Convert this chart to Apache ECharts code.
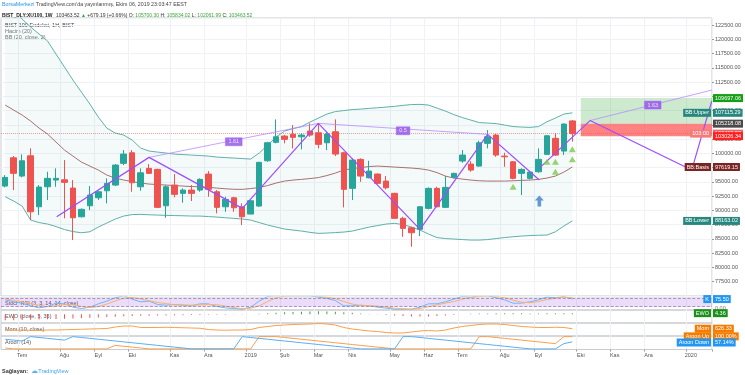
<!DOCTYPE html>
<html>
<head>
<meta charset="utf-8">
<script src="https://cdn.jsdelivr.net/npm/echarts@6/dist/echarts.min.js"></script>
<style>
  html, body { margin: 0; padding: 0; background: #fff; }
  #chart { width: 745px; height: 375px; }
</style>
</head>
<body>
<div id="chart"></div>
<script>
// haftalık mumlar: 2018-06-18 .. 2019-09-30 (68 bar) + 16 boş gelecek bar
const barCount = 84
const monthTicks = { 2: 'Tem', 7: 'Ağu', 11: 'Eyl', 15: 'Eki', 20: 'Kas', 24: 'Ara', 29: '2019', 33: 'Şub', 37: 'Mar', 41: 'Nis', 46: 'May', 50: 'Haz', 54: 'Tem', 59: 'Ağu', 63: 'Eyl', 68: 'Eki', 72: 'Kas', 76: 'Ara', 81: '2020' }
const categories = Array.from({ length: barCount }, (_, i) => String(i))

const opens = [94273, 99235, 96027, 99586, 90644, 94151, 95325, 95378, 93923, 88891, 90820, 92222, 93449, 94449, 98253, 100112, 94151, 97377, 97202, 90820, 94449, 92994, 93572, 93572, 96377, 93274, 90644, 92222, 90644, 89365, 90767, 98709, 101935, 103039, 103338, 102917, 103916, 103618, 101865, 103793, 100112, 93870, 98955, 95729, 96377, 95150, 92994, 88611, 86963, 86682, 90364, 93870, 90539, 95799, 98656, 98131, 97780, 101760, 103215, 99533, 98534, 96500, 95623, 96781, 99831, 102636, 100410, 105700.30]
const highs = [96202, 99533, 99831, 100883, 94449, 96781, 97377, 98832, 95325, 90364, 94273, 93449, 95623, 98131, 100585, 100585, 97377, 98131, 97307, 94449, 96377, 93870, 94449, 95623, 96903, 93572, 92398, 92398, 91240, 91819, 98534, 102040, 105967, 103215, 104968, 103513, 105266, 105266, 103793, 105967, 100287, 99130, 99130, 98709, 96500, 96027, 93099, 88891, 87138, 90767, 94046, 94151, 96027, 96605, 100585, 98656, 102215, 104091, 103390, 100112, 98656, 97377, 96903, 100883, 103215, 103513, 105266, 105834.02]
const lows = [94046, 93572, 95799, 88313, 89189, 91819, 94151, 88611, 84806, 88786, 90066, 91819, 91240, 94273, 97955, 93274, 93449, 96377, 90416, 88716, 92292, 91346, 91644, 93274, 92398, 89487, 89768, 89768, 87436, 89365, 90644, 98534, 101760, 101760, 100883, 100708, 102917, 100883, 100585, 99533, 90539, 91819, 95027, 95623, 94624, 93695, 88540, 85385, 83631, 85507, 90189, 90539, 90469, 95623, 98358, 96781, 97657, 100883, 99410, 97657, 95448, 92696, 95448, 96605, 99708, 99533, 99708, 102061.99]
const closes = [95799, 96500, 98709, 89768, 94098, 95623, 95623, 94922, 88716, 90189, 92696, 93274, 94747, 97955, 99884, 94852, 96605, 96500, 90539, 94151, 92818, 93572, 92994, 95448, 93695, 90539, 91942, 90469, 88891, 91696, 98429, 101865, 102917, 102461, 102812, 103215, 103215, 101584, 103390, 99884, 93695, 98832, 96027, 96903, 94747, 93975, 88611, 86857, 86086, 90644, 93870, 90644, 94046, 96500, 99708, 97079, 101865, 102917, 99708, 99410, 95623, 97202, 96728, 98955, 103092, 99708, 105143, 103463.52]

// Bollinger (20, close, 2)
const bbUpper = [126357, 125130, 123552, 122149, 120922, 119695, 117416, 115137, 112857, 110754, 108650, 106371, 104442, 103565, 103215, 102338, 100936, 100410, 100234, 100059, 99884, 99796, 99708, 99621, 99533, 99358, 99270, 99182, 99095, 99007, 100059, 101462, 102864, 103916, 104354, 104705, 105494, 106195, 106897, 107335, 107510, 107685, 107773, 107896, 108001, 108124, 108246, 108422, 108562, 108597, 108474, 107948, 107422, 106809, 106283, 105845, 105407, 105319, 105231, 104968, 104705, 104617, 104565, 104705, 105547, 106195, 106897, 107115.29]
const bbBasis = [108474, 107598, 106721, 105669, 104442, 103390, 101988, 100585, 99533, 98481, 97780, 97079, 96202, 95676, 95325, 95062, 94799, 94624, 94536, 94449, 94361, 94273, 94186, 94151, 94046, 93923, 93800, 93712, 93695, 93835, 94010, 94361, 94799, 95150, 95325, 95448, 95589, 95764, 96114, 96553, 97079, 97342, 97517, 97692, 97780, 97692, 97605, 97517, 97429, 97307, 97079, 96640, 96027, 95676, 95501, 95325, 95203, 95150, 95150, 95150, 95203, 95273, 95325, 95448, 95676, 96027, 96728, 97619.15]
const bbLower = [92398, 91644, 90767, 88313, 87874, 87611, 87173, 86647, 86296, 86086, 86261, 87085, 87787, 88488, 89014, 89277, 89312, 89242, 89189, 89137, 89101, 89066, 89014, 89014, 88926, 88839, 88716, 88611, 88488, 88313, 87874, 87436, 87085, 86735, 86559, 86384, 86156, 85981, 86033, 86121, 86209, 86384, 86735, 87085, 87348, 87611, 87734, 87524, 87085, 86559, 85858, 85244, 85069, 84982, 84894, 84806, 84806, 84894, 85069, 85244, 85385, 85507, 85595, 85648, 85683, 86261, 87261, 88163.02]

// çizimler: [bar, fiyat]
const zigA = [[6.08, 88891], [16.99, 99305], [28.01, 90364], [36.99, 105266], [49.0, 86682], [57.0, 103338], [63.1, 95325]]
const linkA = [[16.99, 99305], [36.99, 105266]]
const linkB = [[36.99, 105266], [57.0, 103338]]
const zigB = [[63.1, 97430], [69.09, 105757], [81.1, 97079], [83.47, 109176]]
const linkC = [[69.09, 105757], [83.47, 111104]]
const ratioLabels = [[27.0, 102040, '1.61'], [47.0, 103969, '0.5'], [76.5, 108474, '1.63']]
const signalUps = [[60, 94151], [64, 98534], [65, 98534], [65, 96781], [67, 100708], [67, 98955]]
const arrowUps = [[63.1, 91644]]

// long pozisyon kutusu
const targetPrice = 109697.06
const entryPrice = 105218.08
const stopPrice = 103026.34
const lastPrice = 103463.52

// alt paneller (tahmini okumalar)
const stochK = [70, 55, 45, 25, 10, 20, 45, 40, 15, 5, 15, 40, 60, 85, 100, 75, 55, 60, 35, 30, 35, 30, 25, 40, 40, 20, 10, 5, 0, 15, 60, 95, 100, 100, 100, 100, 100, 90, 80, 65, 25, 25, 30, 25, 15, 8, 0, 0, 0, 15, 40, 40, 55, 75, 95, 90, 100, 100, 85, 70, 45, 45, 55, 70, 90, 85, 95, 75.5]
const stochD = [80, 65, 55, 42, 27, 18, 25, 35, 33, 20, 12, 20, 38, 62, 82, 87, 77, 63, 50, 42, 33, 32, 30, 32, 35, 33, 23, 12, 5, 7, 25, 57, 85, 98, 100, 100, 100, 97, 90, 78, 57, 38, 27, 27, 23, 16, 8, 3, 0, 5, 18, 32, 45, 57, 75, 87, 95, 97, 95, 85, 67, 53, 48, 57, 72, 82, 90, 85]
const ewo = [-24, -23.5, -23, -22, -21, -20, -19, -18, -17, -15.5, -14, -12.5, -11, -9.5, -8, -7, -6, -5.5, -5, -4.5, -4, -3.6, -3.2, -2.8, -2.4, -2, -1.6, -1.2, -0.8, -0.4, 2, 4, 6, 8, 9.5, 10.5, 11.5, 12, 11.5, 10, 8, 6, 3.5, 1.5, -1, -3, -5, -7, -8.5, -9, -8.5, -7, -5, -2.5, 0.5, 2, 3, 3.5, 4, 4, 3.8, 3.6, 3.4, 3.4, 3.6, 4, 4.2, 4.36]
const mom = [-2000, -2500, -2000, -2500, -3000, -2000, -2000, -1500, -1000, -500, 0, 500, 1000, 4000, 6000, 6000, 3000, 3000, 3000, 3500, 3000, 2500, 2000, 1500, -1000, -2000, -2500, -2000, -2000, -1000, 3000, 5000, 7000, 8000, 9000, 9500, 10000, 11000, 10000, 8000, 3000, 0, -2000, -4000, -5000, -7000, -8000, -8000, -6000, -4000, -3000, -4000, -2000, 2000, 5000, 7000, 9000, 10000, 10000, 9000, 7000, 5000, 4000, 3000, 3000, 3500, 3000, 626.33]
const aroonUp = [7.14, 0, 0, 0, 0, 0, 0, 0, 0, 0, 0, 0, 0, 28.57, 21.43, 14.29, 7.14, 0, 0, 0, 0, 0, 0, 0, 0, 0, 0, 0, 0, 0, 100, 100, 100, 92.86, 85.71, 78.57, 71.43, 64.29, 57.14, 50, 42.86, 35.71, 28.57, 21.43, 14.29, 7.14, 0, 0, 0, 0, 0, 0, 0, 0, 0, 0, 100, 100, 92.86, 85.71, 78.57, 71.43, 64.29, 57.14, 50, 42.86, 100, 100]
const aroonDown = [78.57, 71.43, 64.29, 100, 92.86, 85.71, 78.57, 71.43, 100, 92.86, 85.71, 78.57, 71.43, 64.29, 57.14, 50, 42.86, 35.71, 28.57, 21.43, 14.29, 7.14, 0, 0, 0, 0, 0, 0, 100, 92.86, 85.71, 78.57, 71.43, 64.29, 57.14, 50, 42.86, 35.71, 28.57, 21.43, 14.29, 7.14, 0, 0, 0, 0, 0, 100, 100, 92.86, 85.71, 78.57, 71.43, 64.29, 57.14, 50, 42.86, 35.71, 28.57, 21.43, 14.29, 7.14, 0, 0, 0, 0, 42.86, 57.14]

const FONT = 'Liberation Sans'
const FS = 5.5
const HFS = 5
const isMonth = (i) => monthTicks[i] !== undefined

const chart = echarts.init(document.getElementById('chart'))

const grids = [
  { left: 1, width: 711, top: 18, height: 278 },
  { left: 1, width: 711, top: 297, height: 13 },
  { left: 1, width: 711, top: 310, height: 13 },
  { left: 1, width: 711, top: 323, height: 13 },
  { left: 1, width: 711, top: 336, height: 13.5 },
].map(g => Object.assign(g, { show: true, borderColor: '#c9cbd1', borderWidth: 1, backgroundColor: 'transparent' }))

const xCat = (gridIndex, showLabel) => ({
  type: 'category', gridIndex, data: categories, boundaryGap: true,
  axisLine: { show: false, onZero: false },
  axisTick: { show: showLabel, interval: isMonth, length: 2, lineStyle: { color: '#999' } },
  axisLabel: { show: showLabel, interval: isMonth, formatter: (v, i) => monthTicks[i] || '', fontSize: FS, color: '#555', fontFamily: FONT, margin: 3 },
  splitLine: { show: true, interval: isMonth, lineStyle: { color: '#eef1f5', width: 1 } },
})
const xVal = (gridIndex) => ({ type: 'value', gridIndex, min: -0.5, max: barCount - 0.5, show: false, axisLine: { onZero: false } })

const xAxes = []
for (let g = 0; g < 5; g++) xAxes.push(xCat(g, g === 4))
for (let g = 0; g < 5; g++) xAxes.push(xVal(g))

const yHidden = (gridIndex, min, max) => ({ type: 'value', gridIndex, min, max, position: 'right', show: true, axisLabel: { show: false }, axisLine: { show: false, onZero: false }, axisTick: { show: false }, splitLine: { show: false } })
const yAxes = [
  {
    type: 'value', gridIndex: 0, position: 'right', min: 75000, max: 123740, interval: 2500,
    axisLine: { show: false, onZero: false },
    axisTick: { show: true, length: 2, lineStyle: { color: '#999' } },
    axisLabel: { fontSize: FS, color: '#555', fontFamily: FONT, margin: 3, showMinLabel: false, showMaxLabel: false, formatter: v => v.toFixed(2) },
    splitLine: { show: true, lineStyle: { color: '#f0f2f6' } },
  },
  yHidden(1, -6, 91),
  yHidden(2, -35, 17),
  yHidden(3, -14000, 12000),
  yHidden(4, -5, 105),
]

// fiyat ekseni etiketleri (x = sağ kenar)
function tag(price, text, bg, side, color) {
  return {
    coord: [barCount - 0.5, price], symbol: 'rect', symbolSize: 0,
    label: {
      show: true, position: side || 'right', distance: 1, formatter: text,
      color: color || '#fff', backgroundColor: bg, padding: [1, 2, 0.5, 2],
      fontSize: FS, fontFamily: FONT, lineHeight: 6.5,
    },
  }
}
const fmt = v => v.toFixed(2)

const mainTags = [
  tag(bbLower[67], 'BB:Lower', '#26877e', 'left'),
  tag(bbLower[67], fmt(bbLower[67]), '#26877e'),
  tag(bbBasis[67], 'BB:Basis', '#7a2424', 'left'),
  tag(bbBasis[67], fmt(bbBasis[67]), '#7a2424'),
  tag(bbUpper[67], 'BB:Upper', '#26877e', 'left'),
  tag(bbUpper[67], fmt(bbUpper[67]), '#26877e'),
  tag(targetPrice, fmt(targetPrice), '#14a014'),
  tag(entryPrice, fmt(entryPrice), '#4a4a4a'),
  tag(lastPrice, '103:00', '#f57a7a', 'left'),
  tag(lastPrice, fmt(lastPrice), '#f26262'),
  tag(stopPrice, fmt(stopPrice), '#ff1f1f'),
]

const lineSeries = (data, color, width, opacity) => ({
  type: 'line', xAxisIndex: 5, yAxisIndex: 0, data, symbol: 'none', silent: true,
  lineStyle: { color, width, opacity: opacity == null ? 1 : opacity }, z: 5, animation: false,
})

const series = [
  // BB dolgu
  { type: 'line', xAxisIndex: 0, yAxisIndex: 0, data: bbLower, stack: 'bb', symbol: 'none', lineStyle: { opacity: 0 }, silent: true },
  { type: 'line', xAxisIndex: 0, yAxisIndex: 0, data: bbUpper.map((u, i) => u - bbLower[i]), stack: 'bb', symbol: 'none', lineStyle: { opacity: 0 }, areaStyle: { color: 'rgba(38,150,140,0.07)' }, silent: true },
  { type: 'line', xAxisIndex: 0, yAxisIndex: 0, data: bbUpper, symbol: 'none', lineStyle: { color: '#5fb0aa', width: 1 }, silent: true },
  { type: 'line', xAxisIndex: 0, yAxisIndex: 0, data: bbLower, symbol: 'none', lineStyle: { color: '#5fb0aa', width: 1 }, silent: true },
  { type: 'line', xAxisIndex: 0, yAxisIndex: 0, data: bbBasis, symbol: 'none', lineStyle: { color: '#a87070', width: 1 }, silent: true },
  // uzun pozisyon kutuları
  {
    type: 'line', xAxisIndex: 5, yAxisIndex: 0, data: [], silent: true,
    markArea: {
      silent: true,
      data: [
        [{ coord: [68, entryPrice], itemStyle: { color: 'rgba(76,175,80,0.28)' } }, { coord: [barCount - 0.5, targetPrice] }],
        [{ coord: [68, stopPrice], itemStyle: { color: 'rgba(255,82,82,0.72)' } }, { coord: [barCount - 0.5, entryPrice] }],
      ],
    },
  },
  {
    type: 'candlestick', xAxisIndex: 0, yAxisIndex: 0, barWidth: 6,
    data: opens.map((o, i) => [o, closes[i], lows[i], highs[i]]),
    itemStyle: { color: '#26a69a', color0: '#ef5350', borderColor: '#26a69a', borderColor0: '#ef5350', borderWidth: 1 },
    markLine: {
      silent: true, symbol: 'none',
      data: [{ yAxis: lastPrice }],
      lineStyle: { color: '#ef5350', type: 'dotted', width: 1, opacity: 0.55 },
      label: { show: false },
    },
    z: 3,
  },
  lineSeries(linkA, '#b98cff', 1, 0.8),
  lineSeries(linkB, '#b98cff', 1, 0.8),
  lineSeries(linkC, '#b98cff', 1, 0.8),
  lineSeries(zigA, '#9d4dff', 1.2),
  lineSeries(zigB, '#9d4dff', 1.2),
  {
    type: 'scatter', xAxisIndex: 5, yAxisIndex: 0, symbolSize: 0, silent: true, z: 6,
    data: ratioLabels.map(r => ({ value: [r[0], r[1]], name: r[2] })),
    label: { show: true, position: 'inside', formatter: p => p.name, color: '#fff', backgroundColor: '#9150e8', borderColor: '#c6a5ff', borderWidth: 0.5, padding: [1, 3, 0.5, 3], fontSize: FS, fontFamily: FONT, lineHeight: 6.5 },
  },
  {
    type: 'scatter', xAxisIndex: 5, yAxisIndex: 0, symbol: 'triangle', symbolSize: [7, 6], silent: true, z: 6,
    data: signalUps, itemStyle: { color: '#7ccb4c' },
  },
  {
    type: 'scatter', xAxisIndex: 5, yAxisIndex: 0, silent: true, z: 6,
    symbol: 'path://M5,0 L10,5 L7,5 L7,11 L3,11 L3,5 L0,5 Z', symbolSize: [9, 11],
    data: arrowUps, itemStyle: { color: '#3d7fcb' },
  },
  {
    type: 'scatter', xAxisIndex: 5, yAxisIndex: 0, data: [], silent: true,
    markPoint: { silent: true, data: mainTags, z: 20 }, z: 20,
  },
  // Stoch RSI
  {
    type: 'line', xAxisIndex: 6, yAxisIndex: 1, data: [], silent: true,
    markArea: { silent: true, data: [[{ coord: [-0.5, 20] }, { coord: [barCount - 0.5, 80] }]], itemStyle: { color: 'rgba(156,82,230,0.2)' } },
    markLine: { silent: true, symbol: 'none', data: [{ yAxis: 80 }, { yAxis: 20 }], lineStyle: { color: '#9a7ab8', type: 'dashed', width: 0.8 }, label: { show: false } },
  },
  { type: 'line', xAxisIndex: 1, yAxisIndex: 1, data: stochK, symbol: 'none', lineStyle: { color: '#6bb8f5', width: 1 }, silent: true },
  { type: 'line', xAxisIndex: 1, yAxisIndex: 1, data: stochD, symbol: 'none', lineStyle: { color: '#f7b26b', width: 1 }, silent: true },
  {
    type: 'scatter', xAxisIndex: 6, yAxisIndex: 1, data: [], silent: true, z: 20,
    markPoint: { silent: true, data: [tag(75.5, 'K', '#2196f3', 'left'), tag(75.5, '75.50', '#2196f3'), tag(8, '0.00', 'transparent', 'right', '#777')] },
  },
  // EWO
  {
    type: 'bar', xAxisIndex: 2, yAxisIndex: 2, barWidth: 1, silent: true,
    data: ewo.map(v => ({ value: v, itemStyle: { color: v < 0 ? '#ef5350' : '#43a047' } })),
  },
  {
    type: 'scatter', xAxisIndex: 7, yAxisIndex: 2, data: [], silent: true, z: 20,
    markPoint: { silent: true, data: [tag(ewo[67], 'EWO', '#1b8e1b', 'left'), tag(ewo[67], fmt(ewo[67]), '#1b8e1b')] },
  },
  // Mom
  { type: 'line', xAxisIndex: 3, yAxisIndex: 3, data: mom, symbol: 'none', lineStyle: { color: '#f7a04b', width: 1 }, silent: true },
  {
    type: 'scatter', xAxisIndex: 8, yAxisIndex: 3, data: [], silent: true, z: 20,
    markPoint: { silent: true, data: [tag(mom[67], 'Mom', '#f57c00', 'left'), tag(mom[67], fmt(mom[67]), '#f57c00')] },
  },
  // Aroon
  { type: 'line', xAxisIndex: 4, yAxisIndex: 4, data: aroonUp, symbol: 'none', lineStyle: { color: '#f7a04b', width: 1 }, silent: true },
  { type: 'line', xAxisIndex: 4, yAxisIndex: 4, data: aroonDown, symbol: 'none', lineStyle: { color: '#5aaef2', width: 1 }, silent: true },
  {
    type: 'scatter', xAxisIndex: 9, yAxisIndex: 4, data: [], silent: true, z: 20,
    markPoint: { silent: true, data: [
      tag(102, 'Aroon Up', '#f57c00', 'left'), tag(102, fmt(aroonUp[67]) + '%', '#f57c00'),
      tag(52, 'Aroon Down', '#2196f3', 'left'), tag(52, fmt(aroonDown[67]) + '%', '#2196f3'),
    ] },
  },
]

const txt = (left, top, text, fill, weight) => ({
  type: 'text', left, top, silent: true,
  style: { text, fill: fill || '#555', font: (weight || 'normal') + ' ' + FS + 'px "' + FONT + '"' },
})

chart.setOption({
  animation: false,
  backgroundColor: '#fff',
  grid: grids,
  xAxis: xAxes,
  yAxis: yAxes,
  series,
  graphic: [
    {
      type: 'text', left: 2, top: 2.5, silent: true,
      style: {
        rich: { b: { fill: '#2196f3', fontSize: HFS + 0.3, fontFamily: FONT }, t: { fill: '#444', fontSize: HFS + 0.3, fontFamily: FONT } },
        text: '{b|BorsaMerkezi}{t| TradingView.com\'da yayınlanmış, Ekim 06, 2019 23:03:47 EEST}',
      },
    },
    {
      type: 'text', left: 2, top: 9.5, silent: true,
      style: {
        rich: {
          k: { fill: '#222', fontSize: HFS, fontFamily: FONT, fontWeight: 'bold' },
          t: { fill: '#333', fontSize: HFS, fontFamily: FONT },
          g: { fill: '#3aa63a', fontSize: HFS, fontFamily: FONT },
        },
        text: '{k|BIST_DLY:XU100, 1W} {t|103463.52 }{g|▲}{t| +679.19 (+0.66%) O: }{g|105700.30}{t| H: }{g|105834.02}{t| L: }{g|102061.99}{t| C: }{g|103463.52}',
      },
    },
    txt(5, 22, 'BIST 100 Endeksi, 1H, BIST', '#444'),
    txt(5, 28, 'Hacim (20)', '#777'),
    txt(5, 34, 'BB (20, close, 2)', '#777'),
    txt(5, 300.5, 'Stoch RSI (3, 3, 14, 14, close)', '#555'),
    txt(5, 313.5, 'EWO (close, 5, 35)', '#555'),
    txt(5, 326.5, 'Mom (10, close)', '#555'),
    txt(5, 339.5, 'Aroon (14)', '#555'),
    {
      type: 'text', left: 2, top: 365, silent: true,
      style: {
        rich: {
          b: { fill: '#333', fontSize: FS, fontFamily: FONT, fontWeight: 'bold' },
          c: { fill: '#5fb2e8', fontSize: FS + 1, fontFamily: FONT },
          t: { fill: '#43a5e8', fontSize: FS, fontFamily: FONT },
        },
        text: '{b|Sağlayan:} {c|☁}{t|TradingView}',
      },
    },
  ],
})
</script>
</body>
</html>
